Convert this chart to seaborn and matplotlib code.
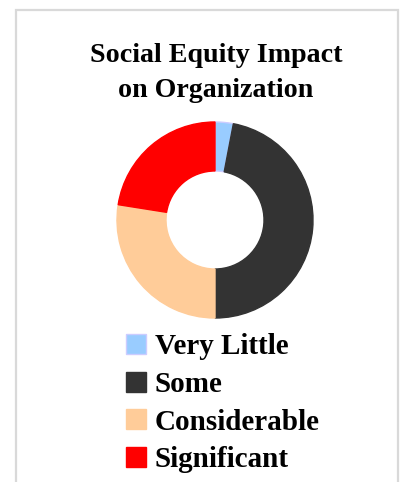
import matplotlib
matplotlib.use("Agg")
import matplotlib.pyplot as plt
import seaborn as sns
from matplotlib.patches import Rectangle

# data (share of respondents, %)
labels = ["Very Little", "Some", "Considerable", "Significant"]
shares = [3.0, 47.0, 27.5, 22.5]
colors = ["#99ccff", "#333333", "#ffcc99", "#ff0000"]
edges = ["#ccccff", "#333333", "#ffcc99", "#ff0000"]

sns.set_theme(style="white")
plt.rcParams["font.family"] = ["Liberation Serif", "DejaVu Serif"]
plt.rcParams["text.color"] = "black"

W, H = 401, 482
fig = plt.figure(figsize=(W / 100, H / 100), dpi=100)

# light grey frame round the chart area
fig.patches.append(Rectangle((16 / W, -0.05), (398 - 16) / W, 1.05 - 10 / H,
                             transform=fig.transFigure, fill=False,
                             edgecolor="#d9d9d9", linewidth=1.6))

fig.text(216 / W, 1 - 73 / H, "Social Equity Impact\non Organization",
         ha="center", va="center", fontsize=20.2, fontweight="bold",
         linespacing=1.5, color="black")

ax = fig.add_axes([116 / W, 1 - 319 / H, 198 / W, 198 / H])
wedges, _ = ax.pie(shares, colors=colors, startangle=90, counterclock=False,
                   radius=1, wedgeprops=dict(width=0.5, linewidth=1))
for w, ec in zip(wedges, edges):
    w.set_edgecolor(ec)
ax.set_xlim(-1.01, 1.01)
ax.set_ylim(-1.01, 1.01)
ax.set_aspect("equal")
ax.axis("off")

leg = fig.legend(wedges, labels, loc="upper left",
                 bbox_to_anchor=(126 / W, 1 - 333 / H), frameon=False,
                 borderpad=0, borderaxespad=0, handlelength=0.68,
                 handleheight=0.68, handletextpad=0.3, labelspacing=0.37,
                 prop=dict(family="Liberation Serif", weight="bold", size=21))
for t in leg.get_texts():
    t.set_color("black")

fig.savefig("out.png", dpi=100)
